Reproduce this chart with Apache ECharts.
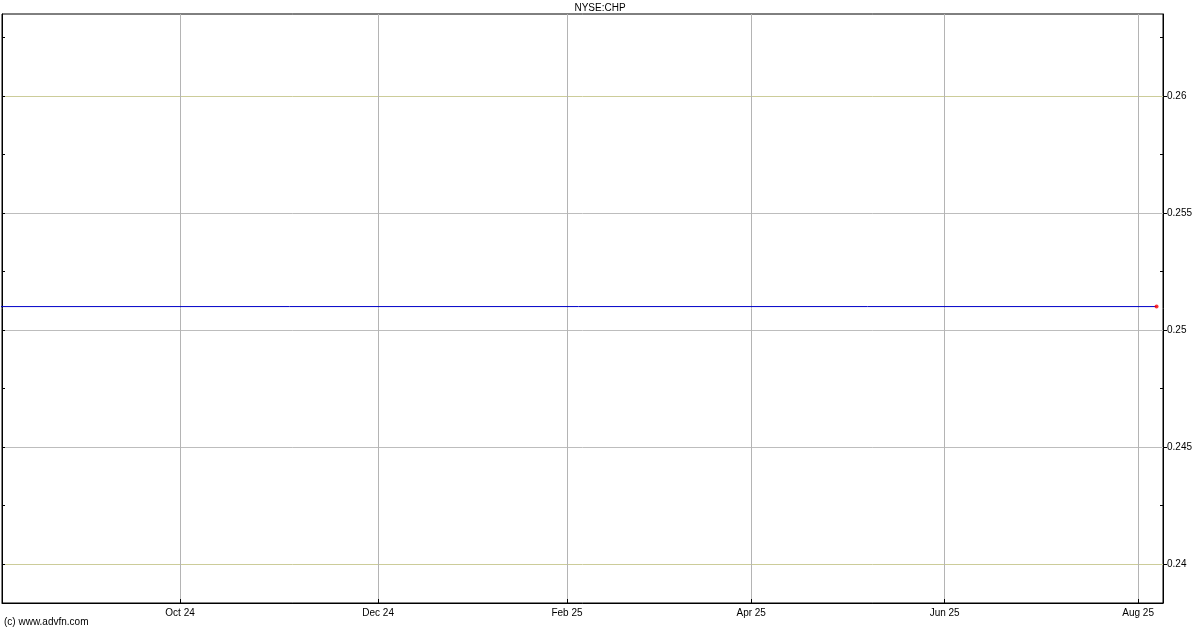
<!DOCTYPE html>
<html>
<head>
<meta charset="utf-8">
<script src="https://cdn.jsdelivr.net/npm/echarts@6/dist/echarts.min.js"></script>
<style>
html,body{margin:0;padding:0;background:#fff;}
#chart{width:1200px;height:630px;}
</style>
</head>
<body>
<div id="chart"></div>
<script>
// x values are trading-day indices, with Oct 1 2024 = 0
const tickIndex = [0, 43, 84, 124, 166, 208];
const tickLabels = ['Oct 24', 'Dec 24', 'Feb 25', 'Apr 25', 'Jun 25', 'Aug 25'];
const priceX = [-39, 212];
const priceY = [0.251, 0.251];
const lastX = [212];
const lastY = [0.251];
const yMajor = [0.24, 0.245, 0.25, 0.255, 0.26];
const yMinor = [0.2425, 0.2475, 0.2525, 0.2575, 0.2625];
const yLabels = ['0.24', '0.245', '0.25', '0.255', '0.26'];

const X_MIN = -38.65, X_MAX = 213.4;
const Y_MIN = 0.238333, Y_MAX = 0.263504;
const FONT = 'Liberation Sans';

const chart = echarts.init(document.getElementById('chart'), null, {renderer: 'canvas'});
const yAll = yMajor.concat(yMinor);

chart.setOption({
  animation: false,
  backgroundColor: '#ffffff',
  title: {
    text: 'NYSE:CHP',
    left: 'center',
    top: 3,
    padding: 0,
    textStyle: {fontFamily: FONT, fontSize: 10, fontWeight: 'normal', color: '#000'}
  },
  graphic: [{
    type: 'text',
    left: 4,
    top: 617,
    style: {text: '(c) www.advfn.com', font: '10px "Liberation Sans"', fill: '#000'}
  }],
  grid: {
    left: 2, right: 37, top: 14, bottom: 27,
    show: true, borderColor: '#000', borderWidth: 1, backgroundColor: 'transparent'
  },
  xAxis: {
    type: 'value',
    min: X_MIN, max: X_MAX,
    axisLine: {show: true, onZero: false, lineStyle: {color: '#000', width: 1}},
    axisTick: {show: true, inside: true, length: 4, customValues: tickIndex, lineStyle: {color: '#000'}},
    axisLabel: {
      show: true, customValues: tickIndex, margin: 5,
      fontFamily: FONT, fontSize: 10, color: '#000',
      formatter: v => { const i = tickIndex.indexOf(v); return i >= 0 ? tickLabels[i] : ''; }
    },
    splitLine: {show: true, lineStyle: {color: '#b4b4b4', width: 1}}
  },
  yAxis: [{
    type: 'value', position: 'right',
    min: Y_MIN, max: Y_MAX,
    axisLine: {show: true, onZero: false, lineStyle: {color: '#000', width: 1}},
    axisTick: {show: true, inside: false, length: 4, customValues: yMajor, lineStyle: {color: '#000'}},
    axisLabel: {
      show: true, customValues: yMajor, margin: 4,
      fontFamily: FONT, fontSize: 10, color: '#000',
      formatter: v => { const i = yMajor.indexOf(v); return i >= 0 ? yLabels[i] : ''; }
    },
    splitLine: {show: true, lineStyle: {color: ['#cccc99', '#bdbdbd', '#bdbdbd', '#bdbdbd', '#cccc99'], width: 1}}
  }, {
    type: 'value', position: 'right',
    min: Y_MIN, max: Y_MAX,
    axisLine: {show: false, onZero: false},
    axisTick: {show: true, inside: true, length: 3, customValues: yMinor, lineStyle: {color: '#000'}},
    axisLabel: {show: false},
    splitLine: {show: false}
  }, {
    type: 'value', position: 'left',
    min: Y_MIN, max: Y_MAX,
    axisLine: {show: true, onZero: false, lineStyle: {color: '#000', width: 1}},
    axisTick: {show: true, inside: true, length: 3, customValues: yAll, lineStyle: {color: '#000'}},
    axisLabel: {show: false},
    splitLine: {show: false}
  }],
  series: [{
    type: 'line',
    data: priceX.map((x, i) => [x, priceY[i]]),
    showSymbol: false,
    symbol: 'none',
    clip: true,
    lineStyle: {color: '#0000c8', width: 1},
    z: 3
  }, {
    type: 'scatter',
    data: lastX.map((x, i) => [x, lastY[i]]),
    symbol: 'circle',
    symbolSize: 4,
    itemStyle: {color: '#ff0000'},
    z: 4
  }]
});
</script>
</body>
</html>
